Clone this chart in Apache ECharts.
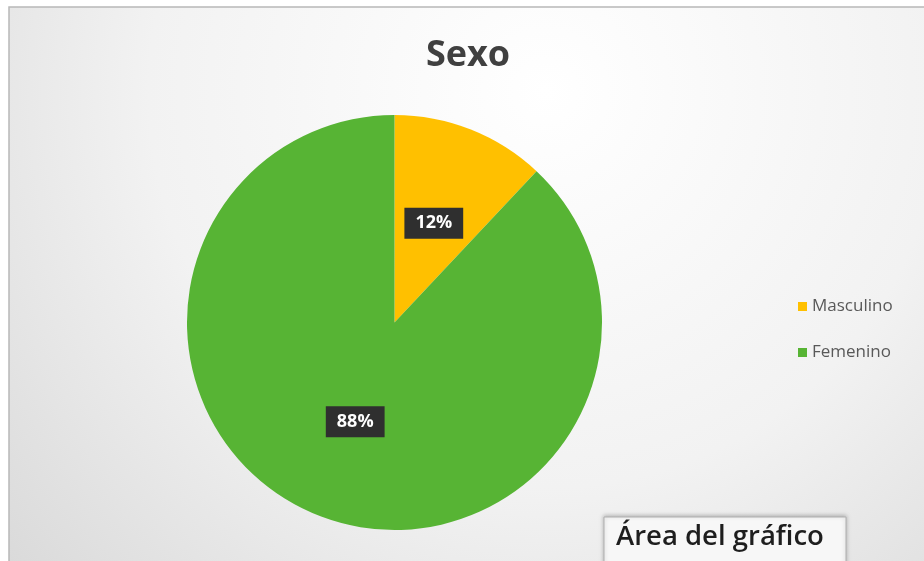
<!DOCTYPE html>
<html>
<head>
<meta charset="utf-8">
<style>
  html, body { margin: 0; padding: 0; background: #ffffff; }
  #chart { width: 924px; height: 561px; }
</style>
<script src="https://cdn.jsdelivr.net/npm/echarts@6/dist/echarts.min.js"></script>
</head>
<body>
<div id="chart"></div>
<script>
// Respondents by sex
const categories = ['Masculino', 'Femenino'];
const values = [12, 88];
const sliceColors = ['#FFC000', '#57B434'];
const chartTitle = 'Sexo';
const areaTag = 'Área del gráfico';

const chart = echarts.init(document.getElementById('chart'), null, { renderer: 'canvas' });

const pieData = categories.map((name, i) => ({
  name: name,
  value: values[i],
  itemStyle: { color: sliceColors[i] }
}));

chart.setOption({
  animation: false,
  graphic: [
    {
      type: 'rect',
      z: -10,
      silent: true,
      shape: { x: 9, y: 7, width: 925, height: 565 },
      style: {
        fill: {
          type: 'radial', x: 0.58, y: 0.15, r: 1.4,
          colorStops: [
            { offset: 0, color: '#ffffff' },
            { offset: 0.5, color: '#f2f2f2' },
            { offset: 1, color: '#d4d4d4' }
          ]
        },
        stroke: '#b8b8b8',
        lineWidth: 1.5
      }
    },
    {
      type: 'rect',
      z: 100,
      silent: true,
      shape: { x: 604, y: 517, width: 242, height: 50 },
      style: {
        fill: '#f7f7f7',
        stroke: '#b0b0b0',
        lineWidth: 1,
        shadowColor: 'rgba(0,0,0,0.25)',
        shadowBlur: 4,
        shadowOffsetY: -1
      }
    },
    {
      type: 'text',
      z: 101,
      silent: true,
      left: 616,
      top: 523,
      style: {
        text: areaTag,
        font: '600 27.5px "Open Sans", sans-serif',
        fill: '#1e1e1e'
      }
    }
  ],
  title: {
    text: chartTitle,
    left: 463,
    top: 33,
    textAlign: 'center',
    textStyle: {
      fontFamily: 'Open Sans',
      fontSize: 36,
      fontWeight: 'bold',
      color: '#404040'
    }
  },
  legend: {
    orient: 'vertical',
    left: 793,
    top: 293,
    icon: 'rect',
    itemWidth: 9,
    itemHeight: 9,
    itemGap: 29,
    textStyle: {
      fontFamily: 'Open Sans',
      fontSize: 17,
      color: '#595959',
      padding: [0, 0, 0, 0]
    },
    data: categories
  },
  series: [
    {
      type: 'pie',
      center: [394.5, 322.5],
      radius: 207.5,
      startAngle: 90,
      clockwise: true,
      avoidLabelOverlap: false,
      itemStyle: { borderWidth: 0 },
      label: {
        show: true,
        position: 'inside',
        formatter: '{d}%',
        color: '#ffffff',
        fontFamily: 'Open Sans',
        fontWeight: 'bold',
        fontSize: 18,
        backgroundColor: '#2f2f2f',
        padding: [7, 11, 6, 11]
      },
      labelLine: { show: false },
      emphasis: { disabled: true },
      data: pieData
    }
  ]
});
</script>
</body>
</html>
